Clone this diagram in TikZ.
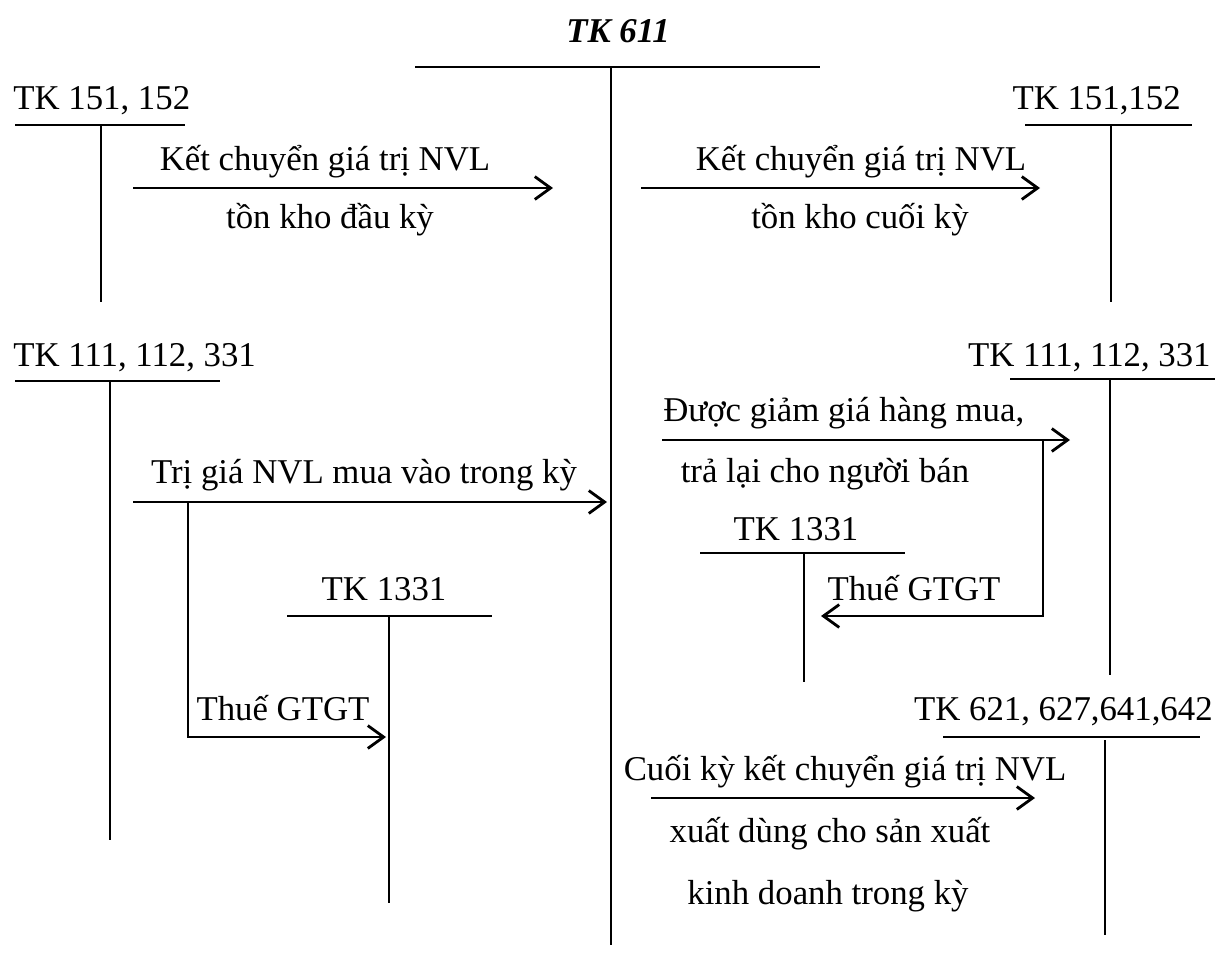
\documentclass[tikz,border=0pt]{standalone}
\usepackage{fontspec}
\setmainfont{Liberation Serif}
\usetikzlibrary{arrows.meta}
\begin{document}
\begin{tikzpicture}[x=0.02cm,y=-0.02cm,
  every node/.style={inner sep=0pt,font=\fontsize{19.8}{23}\selectfont},
  lbl/.style={anchor=base},
  acct/.style={line width=1.6pt},
  flow/.style={line width=1.6pt,-{Straight Barb[length=9pt,width=13pt]}},
  seg/.style={line width=1.6pt}]
\useasboundingbox (0,0) rectangle (1216,958);
% TK 611
\node[lbl,font=\fontsize{19.8}{23}\selectfont\bfseries\itshape] (t611) at (618,42) {TK 611};
\coordinate (m1) at (415,67); \coordinate (m2) at (820,67);
\coordinate (mt) at (611,67); \coordinate (mb) at (611,945);
\draw[acct] (m1) -- (m2); \draw[acct] (mt) -- (mb);
% left TK 151,152
\node[lbl,anchor=base west] (a1) at (13,109) {TK 151, 152};
\coordinate (a1l) at (15,125); \coordinate (a1r) at (185,125);
\coordinate (a1t) at (101,125); \coordinate (a1b) at (101,302);
\draw[acct] (a1l) -- (a1r); \draw[acct] (a1t) -- (a1b);
% arrow 1
\coordinate (f1s) at (133,188); \coordinate (f1e) at (553,188);
\draw[flow] (f1s) -- (f1e);
\node[lbl] (f1a) at (325,170) {Kết chuyển giá trị NVL};
\node[lbl] (f1b) at (330,228) {tồn kho đầu kỳ};
% right TK 151,152
\node[lbl,anchor=base east] (a2) at (1181,109) {TK 151,152};
\coordinate (a2l) at (1025,125); \coordinate (a2r) at (1192,125);
\coordinate (a2t) at (1111,125); \coordinate (a2b) at (1111,302);
\draw[acct] (a2l) -- (a2r); \draw[acct] (a2t) -- (a2b);
% arrow 2
\coordinate (f2s) at (641,188); \coordinate (f2e) at (1040,188);
\draw[flow] (f2s) -- (f2e);
\node[lbl] (f2a) at (861,170) {Kết chuyển giá trị NVL};
\node[lbl] (f2b) at (860,228) {tồn kho cuối kỳ};
% left TK 111,112,331
\node[lbl,anchor=base west] (a3) at (13,366) {TK 111, 112, 331};
\coordinate (a3l) at (15,381); \coordinate (a3r) at (220,381);
\coordinate (a3t) at (110,381); \coordinate (a3b) at (110,840);
\draw[acct] (a3l) -- (a3r); \draw[acct] (a3t) -- (a3b);
% arrow 3
\coordinate (f3s) at (133,502); \coordinate (f3e) at (607,502);
\draw[flow] (f3s) -- (f3e);
\node[lbl] (f3a) at (364,483) {Trị giá NVL mua vào trong kỳ};
% left TK 1331
\node[lbl] (a5) at (384,600) {TK 1331};
\coordinate (a5l) at (287,616); \coordinate (a5r) at (492,616);
\coordinate (a5t) at (389,616); \coordinate (a5b) at (389,903);
\draw[acct] (a5l) -- (a5r); \draw[acct] (a5t) -- (a5b);
% branch VAT left
\coordinate (b1s) at (188,502); \coordinate (b1c) at (188,737); \coordinate (b1e) at (386,737);
\draw[flow] (b1s) -- (b1c) -- (b1e);
\node[lbl] (b1a) at (283,720) {Thuế GTGT};
% right TK 111,112,331
\node[lbl,anchor=base east] (a4) at (1211,366) {TK 111, 112, 331};
\coordinate (a4l) at (1010,379); \coordinate (a4r) at (1215,379);
\coordinate (a4t) at (1110,379); \coordinate (a4b) at (1110,675);
\draw[acct] (a4l) -- (a4r); \draw[acct] (a4t) -- (a4b);
% arrow 4
\coordinate (f4s) at (662,440); \coordinate (f4e) at (1070,440);
\draw[flow] (f4s) -- (f4e);
\node[lbl,anchor=base west] (f4a) at (663,421) {Được giảm giá hàng mua,};
\node[lbl] (f4b) at (825,482) {trả lại cho người bán};
% right TK 1331
\node[lbl] (a6) at (796,540) {TK 1331};
\coordinate (a6l) at (700,553); \coordinate (a6r) at (905,553);
\coordinate (a6t) at (804,553); \coordinate (a6b) at (804,682);
\draw[acct] (a6l) -- (a6r); \draw[acct] (a6t) -- (a6b);
% branch VAT right
\coordinate (b2s) at (1043,440); \coordinate (b2c) at (1043,616); \coordinate (b2e) at (821,616);
\draw[flow] (b2s) -- (b2c) -- (b2e);
\node[lbl] (b2a) at (914,600) {Thuế GTGT};
% TK 621...
\node[lbl,anchor=base east] (a7) at (1213,720) {TK 621, 627,641,642};
\coordinate (a7l) at (943,737); \coordinate (a7r) at (1200,737);
\coordinate (a7t) at (1105,740); \coordinate (a7b) at (1105,935);
\draw[acct] (a7l) -- (a7r); \draw[acct] (a7t) -- (a7b);
% arrow 5
\coordinate (f5s) at (651,798); \coordinate (f5e) at (1035,798);
\draw[flow] (f5s) -- (f5e);
\node[lbl] (f5a) at (845,780) {Cuối kỳ kết chuyển giá trị NVL};
\node[lbl] (f5b) at (830,842) {xuất dùng cho sản xuất};
\node[lbl] (f5c) at (828,904) {kinh doanh trong kỳ};
\end{tikzpicture}
\end{document}
